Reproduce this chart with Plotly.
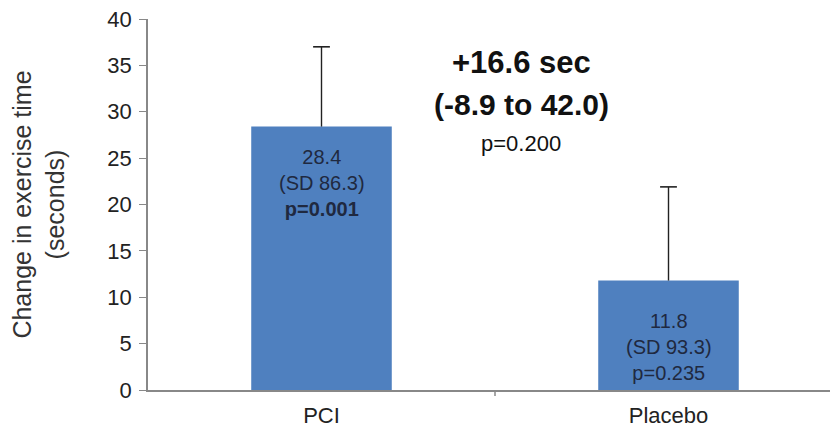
import plotly.graph_objects as go

categories = ["PCI", "Placebo"]
means = [28.4, 11.8]
err_up = [8.6, 10.1]
sd_labels = ["(SD 86.3)", "(SD 93.3)"]
p_labels = ["<b>p=0.001</b>", "p=0.235"]
label_y = [22.3, 4.6]
y_ticks = [0, 5, 10, 15, 20, 25, 30, 35, 40]
diff_lines = ["<b>+16.6 sec</b>", "<b>(-8.9 to 42.0)</b>", "p=0.200"]
diff_y = [35.3, 30.8, 26.6]

FONT = "Arial, Liberation Sans, sans-serif"

fig = go.Figure()
fig.add_trace(go.Bar(
    x=categories, y=means,
    marker=dict(color="#4f80bf", line=dict(width=0)),
    width=0.405,
))

# error bars (upper only, no cap at the bar top)
ex, ey = [], []
for c, m, e in zip(categories, means, err_up):
    ex += [c, c, None]
    ey += [m, m + e, None]
fig.add_trace(go.Scatter(x=ex, y=ey, mode="lines",
                         line=dict(color="#222222", width=1.4), hoverinfo="skip"))
fig.add_trace(go.Scatter(x=categories, y=[m + e for m, e in zip(means, err_up)],
                         mode="markers",
                         marker=dict(symbol="line-ew", size=12,
                                     line=dict(color="#222222", width=1.6)),
                         hoverinfo="skip"))

for c, m, sd, p, ly in zip(categories, means, sd_labels, p_labels, label_y):
    fig.add_annotation(x=c, y=ly, text=f"{m}<br>{sd}<br>{p}", showarrow=False,
                       font=dict(family=FONT, size=20, color="#1f2940"),
                       align="center", yanchor="middle")

sizes = [31, 30, 22]
for t, yy, s in zip(diff_lines, diff_y, sizes):
    fig.add_annotation(x=0.575, y=yy, xref="x", yref="y", text=t, showarrow=False,
                       font=dict(family=FONT, size=s, color="#111111"))

fig.update_layout(
    width=838, height=430,
    margin=dict(l=140, r=4, t=11, b=48, autoexpand=False),
    plot_bgcolor="white", paper_bgcolor="white",
    showlegend=False,
    font=dict(family=FONT, color="#222222"),
    xaxis=dict(range=[-0.5, 1.5], showline=True, linecolor="#888888", linewidth=1.5,
               ticks="", tickfont=dict(size=22, color="#222222"), showgrid=False,
               zeroline=False, ticklabelstandoff=5, automargin=False),
    yaxis=dict(range=[0, 40], tickvals=y_ticks, showline=True, linecolor="#888888",
               linewidth=1.5, ticks="outside", ticklen=7, tickcolor="#888888",
               tickfont=dict(size=22, color="#222222"), showgrid=False, zeroline=False,
               ticklabelstandoff=3, ticklabeloverflow="allow", automargin=False,
               title=dict(text="Change in exercise time<br>(seconds)",
                          font=dict(size=25, color="#333333"), standoff=37)),
)
# middle category divider tick
fig.add_shape(type="line", xref="x", yref="paper", x0=0.5, x1=0.5, y0=0, y1=-0.016,
              line=dict(color="#888888", width=1.5))

fig.write_html("out.html")
